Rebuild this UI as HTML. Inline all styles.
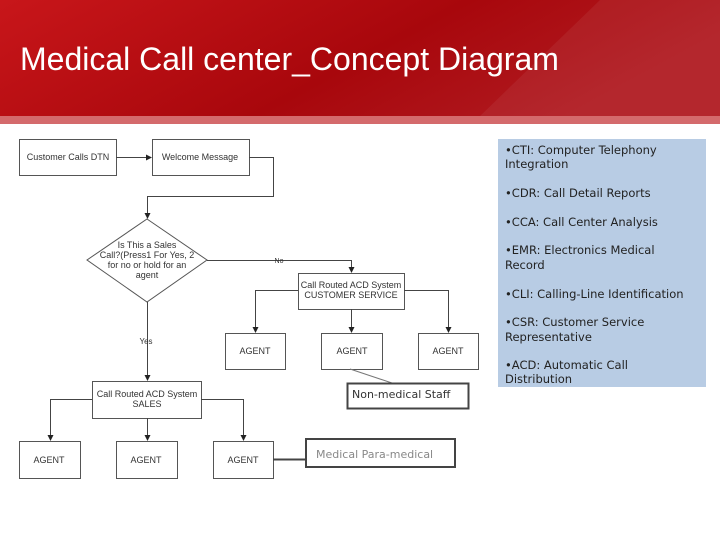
<!DOCTYPE html>
<html><head><meta charset="utf-8"><style>
body{margin:0;width:720px;height:540px;overflow:hidden;background:#fff;font-family:"Liberation Sans",sans-serif}
</style></head><body>
<svg width="720" height="540" viewBox="0 0 720 540" xmlns="http://www.w3.org/2000/svg">
<defs>
<linearGradient id="rg" x1="0" y1="0" x2="1" y2="0.3">
<stop offset="0" stop-color="#c8161a"/><stop offset="0.6" stop-color="#a8070c"/><stop offset="1" stop-color="#b01a20"/>
</linearGradient>
<marker id="a" markerWidth="6" markerHeight="6" refX="5" refY="3" orient="auto"><path d="M0,0 L6,3 L0,6z" fill="#222"/></marker>
</defs>
<rect x="0" y="0" width="720" height="116" fill="url(#rg)"/>
<polygon points="600,0 720,0 720,116 480,116" fill="#fff" opacity="0.06"/>
<rect x="0" y="116" width="720" height="8" fill="#d46a6c"/>
<text x="20" y="70" font-size="32" fill="#fff" font-family="Liberation Sans,sans-serif">Medical Call center_Concept Diagram</text>

<g fill="#fff" stroke="#555" stroke-width="1">
<rect x="19.5" y="139.5" width="97" height="36"/>
<rect x="152.5" y="139.5" width="97" height="36"/>
<polygon points="147,219 207,260 147,302 87,260"/>
<rect x="298.5" y="273.5" width="106" height="36"/>
<rect x="225.5" y="333.5" width="60" height="36"/>
<rect x="321.5" y="333.5" width="61" height="36"/>
<rect x="418.5" y="333.5" width="60" height="36"/>
<rect x="92.5" y="381.5" width="109" height="37"/>
<rect x="19.5" y="441.5" width="61" height="37"/>
<rect x="116.5" y="441.5" width="61" height="37"/>
<rect x="213.5" y="441.5" width="60" height="37"/>
</g>
<g fill="none" stroke="#444" stroke-width="1">
<path d="M116,157.5 H151" marker-end="url(#a)"/>
<path d="M249,157.5 H273.5 V196.5 H147.5 V218" marker-end="url(#a)"/>
<path d="M207,260.5 H351.5 V272" marker-end="url(#a)"/>
<path d="M298,290.5 H255.5 V332" marker-end="url(#a)"/>
<path d="M351.5,309 V332" marker-end="url(#a)"/>
<path d="M404,290.5 H448.5 V332" marker-end="url(#a)"/>
<path d="M147.5,302 V380" marker-end="url(#a)"/>
<path d="M92,399.5 H50.5 V440" marker-end="url(#a)"/>
<path d="M147.5,418 V440" marker-end="url(#a)"/>
<path d="M201,399.5 H243.5 V440" marker-end="url(#a)"/>
<path d="M350,369 L392,383" stroke="#777"/>
<path d="M273,459.5 H306" stroke="#444" stroke-width="2"/>
</g>
<rect x="347.5" y="383.5" width="121" height="25" fill="#fff" stroke="#444" stroke-width="2"/>
<rect x="306" y="439" width="149" height="28" fill="#fff" stroke="#444" stroke-width="2"/>
<g font-family="Liberation Sans,sans-serif" font-size="9" fill="#333" text-anchor="middle">
<text x="68" y="160">Customer Calls DTN</text>
<text x="200" y="160">Welcome Message</text>
<text x="147" y="248">Is This a Sales</text>
<text x="147" y="258">Call?(Press1 For Yes, 2</text>
<text x="147" y="268">for no or hold for an</text>
<text x="147" y="278">agent</text>
<text x="279" y="263" font-size="7">No</text>
<text x="146" y="344" font-size="8">Yes</text>
<text x="351" y="288">Call Routed ACD System</text>
<text x="351" y="298">CUSTOMER SERVICE</text>
<text x="255" y="354">AGENT</text>
<text x="352" y="354">AGENT</text>
<text x="448" y="354">AGENT</text>
<text x="147" y="397">Call Routed ACD System</text>
<text x="147" y="407">SALES</text>
<text x="49" y="463">AGENT</text>
<text x="146" y="463">AGENT</text>
<text x="243" y="463">AGENT</text>
</g>
<text x="352" y="398" font-family="DejaVu Sans,sans-serif" font-size="11" fill="#333">Non-medical Staff</text>
<text x="316" y="458" font-family="DejaVu Sans,sans-serif" font-size="11" fill="#888">Medical Para-medical</text>

<rect x="498" y="139" width="208" height="248" fill="#b8cce4"/>
<g font-family="DejaVu Sans,sans-serif" font-size="11.5" fill="#222">
<text x="505" y="154">•CTI: Computer Telephony</text>
<text x="505" y="168">Integration</text>
<text x="505" y="197">•CDR: Call Detail Reports</text>
<text x="505" y="226">•CCA: Call Center Analysis</text>
<text x="505" y="254">•EMR: Electronics Medical</text>
<text x="505" y="269">Record</text>
<text x="505" y="298">•CLI: Calling-Line Identification</text>
<text x="505" y="326">•CSR: Customer Service</text>
<text x="505" y="341">Representative</text>
<text x="505" y="369">•ACD: Automatic Call</text>
<text x="505" y="383">Distribution</text>
</g>
</svg>
</body></html>
